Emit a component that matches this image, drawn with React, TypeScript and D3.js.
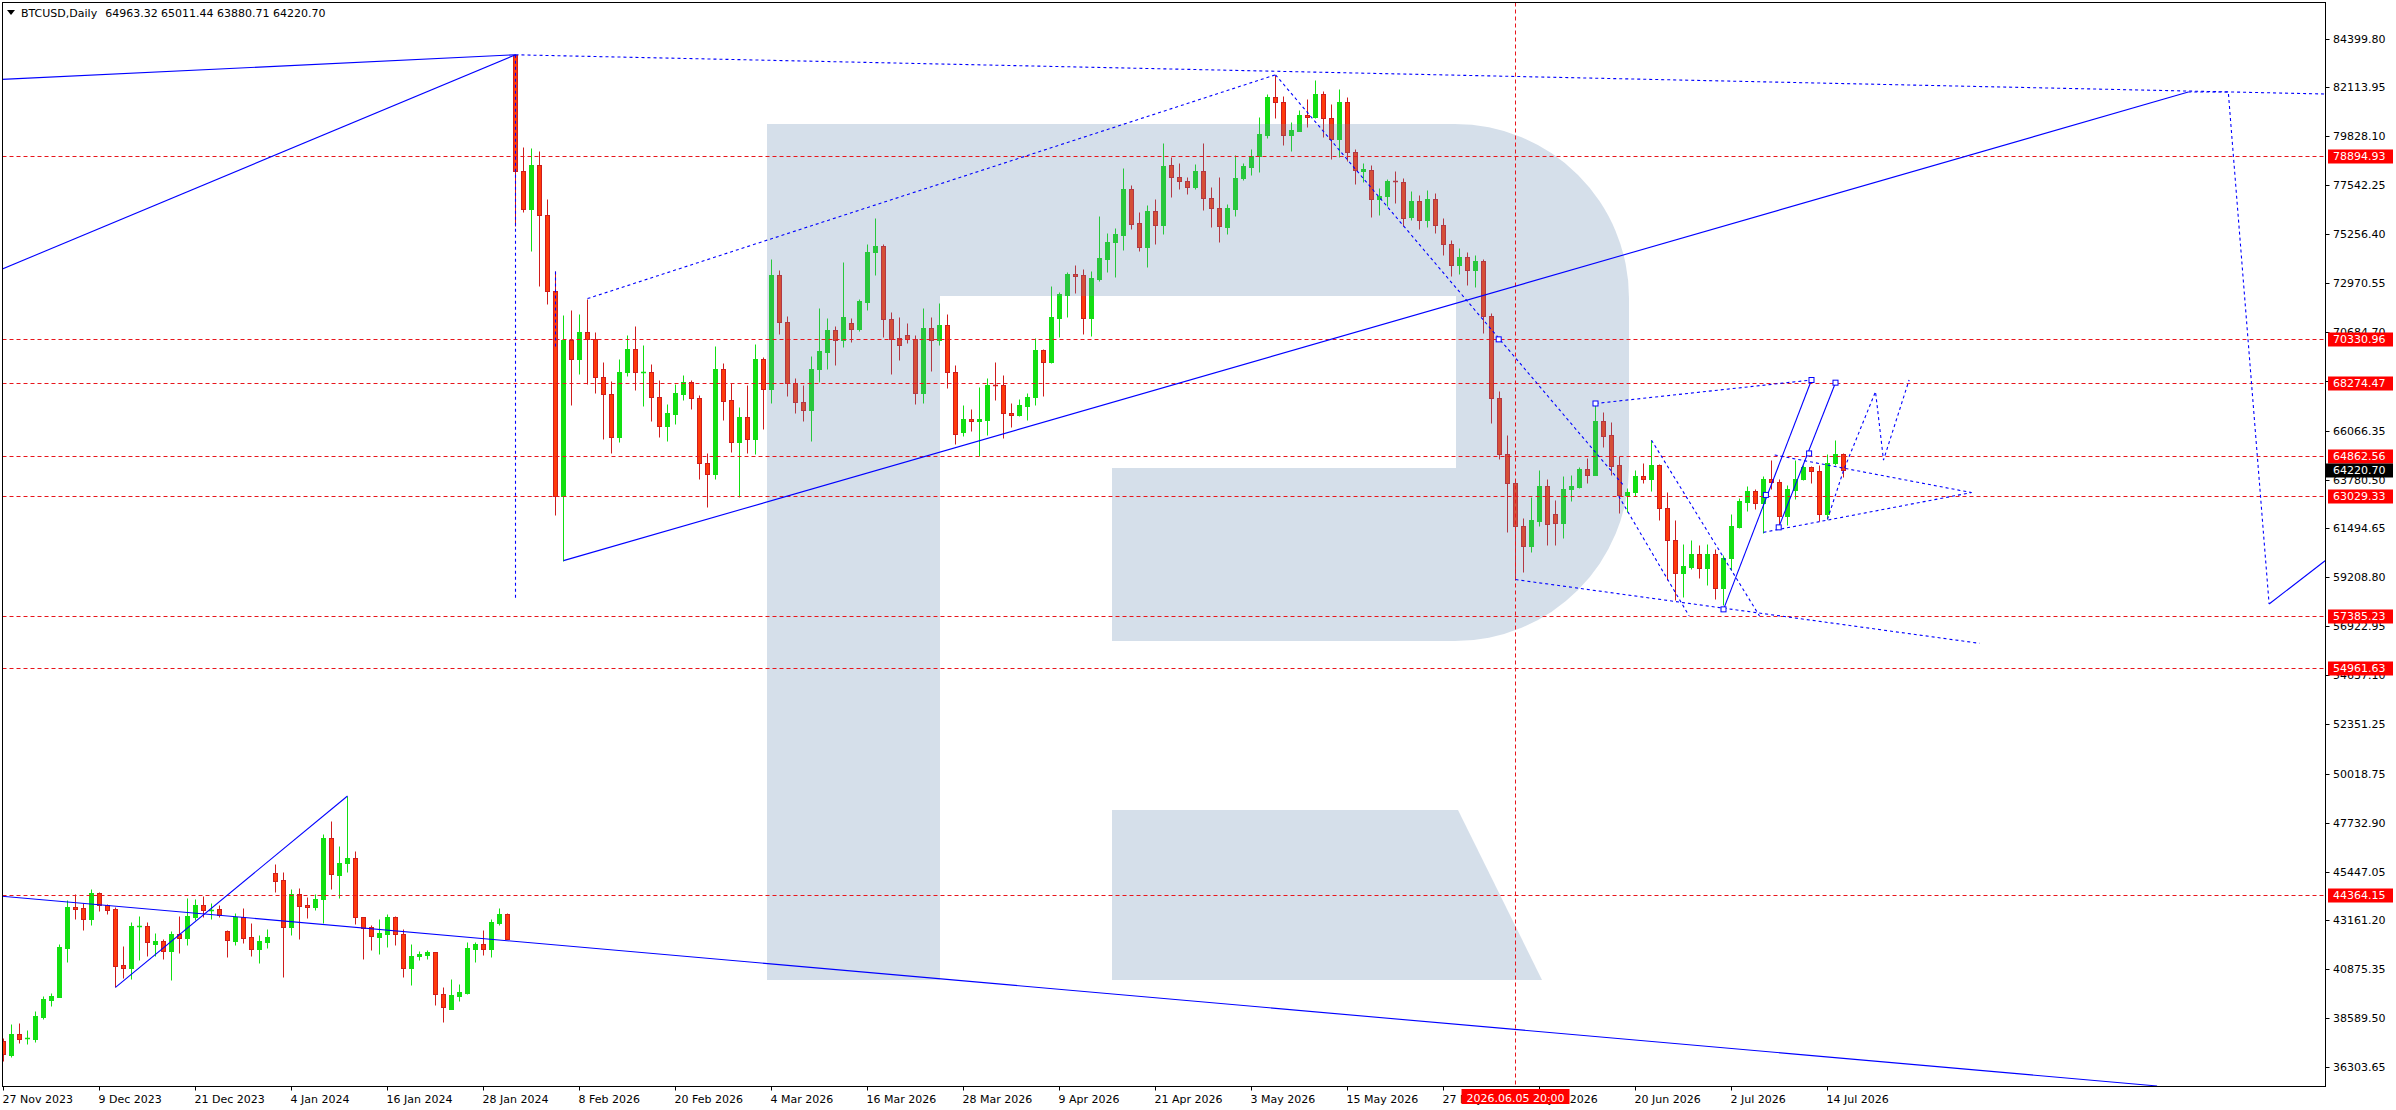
import React, { useMemo } from 'react';
import * as d3 from 'd3';

const W = 2396;
const H = 1110;
const FRAME = { left: 2.5, top: 2.5, right: 2325.5, bottom: 1086.5 };
const FONT = '"DejaVu Sans", Tahoma, sans-serif';

const SYMBOL = 'BTCUSD,Daily';
const HEADER_OHLC = '64963.32 65011.44 63880.71 64220.70';

// daily OHLC, bar 0 = 27 Nov 2023 (the feed jumps to 2026 after bar 63)
const CANDLES: [number, number, number, number][] = [
  [37521, 37646, 36601, 36898], [36866, 38316, 36757, 37849], [37849, 38348, 37443, 37630], [37630, 38036, 37365, 37661],
  [37630, 38924, 37490, 38690], [38659, 39626, 38534, 39485], [39454, 39782, 39174, 39626], [39595, 42058, 39595, 41917],
  [41886, 44116, 41231, 43788], [43788, 44381, 43243, 43710], [43741, 43960, 42728, 43243], [43243, 44630, 42962, 44427],
  [44427, 44490, 43617, 43866], [43866, 43944, 43477, 43663], [43695, 43804, 40031, 41045], [41076, 41964, 40452, 40951],
  [40951, 43071, 40437, 42900], [42868, 43367, 41310, 42900], [42884, 43071, 41512, 42136], [42073, 42557, 41512, 42183],
  [42183, 42276, 41372, 41746], [41746, 42682, 40390, 42526], [42526, 43367, 41653, 42354], [42354, 44225, 42011, 43367],
  [43336, 44162, 43180, 43866], [43866, 44318, 43305, 43632], [43617, 43960, 43211, 43663], [43679, 43882, 43305, 43414],
  [42650, 42697, 41466, 42229], [42214, 43492, 41995, 43321], [43305, 43741, 42120, 42354], [42385, 43024, 41512, 41808],
  [41808, 42463, 41185, 42183], [42167, 42775, 41855, 42370], [45363, 45799, 44505, 45020], [45035, 45425, 40499, 42837],
  [42837, 44630, 42494, 44381], [44381, 44677, 42307, 43851], [43866, 44256, 43289, 43804], [43804, 44381, 43663, 44162],
  [44147, 47202, 43056, 47000], [47000, 47810, 44615, 45316], [45300, 46641, 44194, 45830], [45830, 48980, 45441, 46064],
  [46064, 46407, 42993, 43305], [43305, 43336, 41341, 42822], [42853, 42962, 41793, 42417], [42401, 43243, 41575, 42557],
  [42541, 43461, 41902, 43321], [43321, 43383, 42027, 42510], [42510, 42759, 40499, 40951], [40951, 42058, 40125, 41481],
  [41481, 41731, 41294, 41606], [41559, 41777, 41372, 41684], [41668, 41699, 39220, 39704], [39704, 40062, 38394, 39096],
  [39033, 40421, 39033, 39657], [39642, 40187, 39377, 39813], [39782, 42151, 39704, 41871], [41839, 42136, 41231, 42058],
  [42058, 42713, 41559, 41839], [41839, 43243, 41466, 43087], [43056, 43757, 42962, 43461], [43461, 43492, 42276, 42307],
  [83643, 83676, 75652, 78193], [78193, 79330, 76287, 76421], [76421, 79296, 74481, 78494], [78494, 79146, 72843, 76136],
  [76136, 76905, 72007, 72609], [72609, 73512, 62110, 63030], [63030, 71472, 59987, 70302], [70302, 71706, 67276, 69433],
  [69433, 71522, 68730, 70670], [70670, 72241, 68229, 70335], [70335, 70670, 67828, 68597], [68597, 69265, 65688, 67761],
  [67761, 68379, 65036, 65755], [65755, 69416, 65537, 68831], [68814, 70536, 68630, 69867], [69867, 70971, 67978, 68797],
  [68781, 70068, 67226, 68814], [68797, 69182, 66523, 67627], [67627, 68446, 65771, 66290], [66290, 67292, 65587, 66891],
  [66858, 68262, 66390, 67828], [67794, 68664, 67510, 68363], [68363, 68446, 67092, 67577], [67577, 67711, 63815, 64568],
  [64568, 65003, 62511, 64016], [64016, 70018, 63815, 68948], [68948, 69249, 66557, 67460], [67493, 68296, 65069, 65520],
  [65520, 67159, 62980, 66724], [66724, 68195, 65036, 65654], [65654, 70118, 64986, 69416], [69416, 69517, 66122, 67995],
  [67995, 74097, 67376, 73345], [73345, 73579, 70603, 71138], [71138, 71422, 67694, 68279], [68279, 68546, 66908, 67426],
  [67426, 68212, 66524, 67008], [67008, 69566, 65587, 68948], [68948, 71807, 68346, 69784], [69767, 71355, 68964, 70770],
  [70770, 70971, 69148, 70302], [70302, 73946, 69984, 71372], [71104, 71355, 70218, 70804], [70804, 72241, 70703, 72124],
  [72091, 74799, 71723, 74414], [74414, 76019, 73361, 74682], [74682, 74799, 70453, 71271], [71271, 71606, 68730, 70352],
  [70402, 71372, 69349, 70051], [70536, 71104, 70185, 70352], [70352, 70536, 67326, 67844], [67844, 71807, 67376, 70870],
  [70870, 71372, 68864, 70285], [70285, 72041, 70085, 71004], [71004, 71522, 68078, 68831], [68831, 69132, 65454, 65923],
  [66006, 67260, 65821, 66591], [66591, 67076, 66055, 66524], [66524, 68095, 64869, 66591], [66574, 68530, 65872, 68195],
  [68195, 69265, 67510, 68145], [68195, 68664, 65704, 66908], [66908, 67360, 66240, 66808], [66791, 67543, 66741, 67260],
  [67226, 67828, 66574, 67643], [67627, 70385, 67260, 69834], [69834, 69867, 67677, 69282], [69282, 72826, 69249, 71372],
  [71355, 72559, 70453, 72458], [72425, 73478, 71389, 73395], [73395, 73813, 72509, 73311], [73345, 73629, 70603, 71355],
  [71355, 73529, 70503, 73211], [73177, 76103, 73060, 74147], [74114, 75317, 73478, 74866], [74866, 75551, 73261, 75267],
  [75234, 78360, 74532, 77374], [77374, 77558, 75484, 75752], [75769, 76287, 74448, 74649], [74649, 76621, 73729, 76320],
  [76320, 76889, 74816, 75702], [75702, 79530, 75284, 78443], [78477, 78861, 76972, 77925], [77925, 78594, 77357, 77724],
  [77741, 77925, 77156, 77474], [77474, 78544, 77357, 78193], [78193, 79530, 76404, 76939], [76939, 77457, 75602, 76471],
  [76471, 77925, 74899, 75618], [75602, 76672, 75284, 76488], [76454, 78962, 76120, 77892], [77858, 78577, 77808, 78443],
  [78410, 79246, 78042, 78912], [78895, 80734, 78176, 79931], [79915, 81821, 79731, 81670], [81670, 82707, 80667, 81419],
  [81419, 81720, 79447, 79881], [79881, 80500, 79162, 80132], [80099, 81068, 80065, 80818], [80818, 81587, 80249, 80734],
  [80734, 82473, 80667, 81821], [81821, 81954, 79798, 80684], [80684, 81353, 78761, 79697], [79697, 82055, 78878, 81419],
  [81419, 81670, 78661, 79112], [79112, 79246, 77608, 78243], [78226, 78577, 77708, 78293], [78243, 78494, 76053, 76889],
  [76889, 77424, 76136, 77040], [77023, 77842, 76555, 77724], [77724, 78209, 76705, 77674], [77674, 77892, 75652, 76019],
  [76050, 77250, 75940, 76800], [76800, 77100, 75500, 75900], [75900, 77300, 75600, 76900], [76900, 77200, 75300, 75700],
  [75700, 76000, 74300, 74800], [74800, 75000, 73300, 73800], [73800, 74600, 73400, 74200], [74200, 74400, 72900, 73600],
  [73600, 74300, 72800, 74000], [74000, 74100, 70643, 71422], [71422, 71547, 66400, 67570], [67570, 67913, 64762, 64996],
  [64996, 65854, 61331, 63639], [63639, 63749, 59101, 61611], [61596, 62002, 59460, 60676], [60676, 62969, 60395, 61877],
  [61846, 64217, 61612, 63468], [63468, 63827, 60707, 61690], [62158, 62844, 60707, 61752], [61752, 63936, 61050, 63358],
  [63358, 64014, 62782, 63468], [63437, 64373, 63405, 64263], [64263, 64778, 63624, 64014], [63983, 67336, 63983, 66509],
  [66509, 66946, 65308, 65823], [65853, 66447, 63983, 64419], [64450, 64872, 62220, 63047], [63047, 63405, 62251, 63203],
  [63187, 64217, 63000, 63936], [63936, 64575, 63624, 63811], [63795, 65620, 63250, 64450], [64450, 64497, 61877, 62470],
  [62470, 63203, 59101, 60941], [60941, 61877, 58134, 59413], [59413, 60754, 58290, 59725], [59694, 60941, 59616, 60286],
  [60286, 60707, 59179, 59662], [59662, 60785, 58836, 60286], [60286, 60551, 58180, 58726], [58726, 60240, 57900, 60130],
  [60115, 62189, 59538, 61596], [61565, 62922, 61518, 62766], [62735, 63468, 62314, 63234], [63234, 63358, 62423, 62703],
  [62688, 63936, 61300, 63827], [63827, 64684, 63358, 63671], [63671, 63827, 61596, 62080], [62080, 63515, 61643, 63328],
  [63312, 64716, 62860, 63827], [63795, 64450, 63749, 64373], [64373, 64419, 63624, 64185], [64185, 64450, 61830, 62189],
  [62189, 64965, 61924, 64575], [64560, 65620, 64450, 64965], [64963.32, 65011.44, 63880.71, 64220.7],
];

const PRICE_TICKS = [
  84399.8, 82113.95, 79828.1, 77542.25, 75256.4, 72970.55, 70684.7, 68398.85, 66066.35, 63780.5, 61494.65,
  59208.8, 56922.95, 54637.1, 52351.25, 50018.75, 47732.9, 45447.05, 43161.2, 40875.35, 38589.5, 36303.65,
];
const LEVELS = [78894.93, 70330.96, 68274.47, 64862.56, 63029.33, 57385.23, 54961.63, 44364.15];
const LAST_PRICE = 64220.7;

const DATE_BARS = [0, 12, 24, 36, 48, 60, 72, 84, 96, 108, 120, 132, 144, 156, 168, 180, 192, 204, 216, 228];
const DATE_LABELS = [
  '27 Nov 2023', '9 Dec 2023', '21 Dec 2023', '4 Jan 2024', '16 Jan 2024', '28 Jan 2024', '8 Feb 2026',
  '20 Feb 2026', '4 Mar 2026', '16 Mar 2026', '28 Mar 2026', '9 Apr 2026', '21 Apr 2026', '3 May 2026',
  '15 May 2026', '27 May 2026', '8 Jun 2026', '20 Jun 2026', '2 Jul 2026', '14 Jul 2026',
];
const CURSOR_BAR = 189;
const CURSOR_LABEL = '2026.06.05 20:00';

// drawn objects, points as [bar, price]
const SOLID_LINES: [number, number][][] = [
  [[-0.44, 82487], [64, 83643]],
  [[-0.44, 73580], [64, 83643]],
  [[70, 59987], [273.1, 81900]],
  [[-0.44, 44302], [269.2, 35417]],
  [[14, 40031], [43, 48980]],
  [[215, 57708], [226, 68434]],
  [[221.9, 61543], [229, 68309]],
  [[283.2, 57960], [290.2, 59980]],
];
const DOTTED_LINES: [number, number][][] = [
  [[64, 83643], [290.2, 81809]],
  [[64, 83643], [64, 58150]],
  [[69, 73512], [69, 69970]],
  [[73, 72241], [159, 82707]],
  [[159, 82707], [202.4, 63550]],
  [[201.9, 63000], [210.7, 57400]],
  [[206, 65620], [219.5, 57400]],
  [[189, 59101], [247, 56120]],
  [[199, 67336], [226, 68434]],
  [[221.4, 64926], [246, 63170]],
  [[220, 61310], [246, 63170]],
  [[228, 61924], [230, 64200], [234, 67890], [235, 64690], [238.2, 68434]],
  [[273.1, 81900], [278.1, 81900], [283.2, 57960]],
];
const MARKERS: [number, number][] = [
  [215, 57708], [226, 68434], [221.9, 61543], [229, 68309], [225.7, 65000], [220.3, 63060], [186.9, 70335], [199, 67336],
];

const BULL = '#12df12';
const BEAR_FILL = '#ff3a0a';
const BEAR_LINE = '#d01c1c';
const LEVEL_RED = '#e8161c';
const BLUE = '#0000ff';

export default function App() {
  const x = useMemo(() => d3.scaleLinear().domain([0, 290]).range([3.5, 3.5 + 8 * 290]), []);
  const y = useMemo(() => d3.scaleLinear().domain([35417, 86112]).range([1086, 2]), []);
  const line = d3.line<[number, number]>().x((d) => x(d[0])).y((d) => y(d[1]));
  const snap = (v: number) => Math.round(v) + 0.5;

  // R watermark (pixel shape of the broker logo)
  const logoBody =
    'M767,124 H1455 A174,174 0 0 1 1629,298 V467 A174,174 0 0 1 1455,641 H1112 V468 H1456 V296 H940 V980 H767 Z';
  const logoLeg = 'M1112,810 H1458 L1542,980 H1112 Z';

  return (
    <div style={{ position: 'absolute', left: 0, top: 0 }}>
      <svg width={W} height={H} style={{ display: 'block', background: '#fff' }} fontFamily={FONT}>
        <defs>
          <clipPath id="plot">
            <rect x={FRAME.left} y={FRAME.top} width={FRAME.right - FRAME.left} height={FRAME.bottom - FRAME.top} />
          </clipPath>
        </defs>

        <g clipPath="url(#plot)">
          {/* Candles */}
          {CANDLES.map(([o, h, l, c], i) => {
            const cx = x(i);
            const bull = c >= o;
            const yTop = snap(y(Math.max(o, c)));
            const yBot = snap(y(Math.min(o, c)));
            const wick = bull ? BULL : BEAR_LINE;
            return (
              <g key={i}>
                <line x1={cx} x2={cx} y1={snap(y(h))} y2={snap(y(l))} stroke={wick} strokeWidth={1} />
                {yBot - yTop < 1.5 ? (
                  <line x1={cx - 2.5} x2={cx + 2.5} y1={yTop} y2={yTop} stroke={wick} strokeWidth={1.5} />
                ) : (
                  <rect
                    x={cx - 2}
                    y={yTop}
                    width={4}
                    height={yBot - yTop}
                    fill={bull ? BULL : BEAR_FILL}
                    stroke={bull ? BULL : BEAR_LINE}
                    strokeWidth={1}
                  />
                )}
              </g>
            );
          })}

          {/* Watermark */}
          <path d={logoBody} fill="rgb(100,137,178)" fillOpacity={0.27} />
          <path d={logoLeg} fill="rgb(100,137,178)" fillOpacity={0.27} />

          {/* Levels */}
          {LEVELS.map((p) => (
            <line
              key={p}
              x1={FRAME.left}
              x2={FRAME.right}
              y1={snap(y(p))}
              y2={snap(y(p))}
              stroke={LEVEL_RED}
              strokeDasharray="4 3"
            />
          ))}
          <line
            x1={x(CURSOR_BAR)}
            x2={x(CURSOR_BAR)}
            y1={FRAME.top}
            y2={FRAME.bottom}
            stroke={LEVEL_RED}
            strokeDasharray="4 3"
          />

          {/* Drawn objects */}
          {SOLID_LINES.map((pts, k) => (
            <path key={`s${k}`} d={line(pts) ?? ''} fill="none" stroke={BLUE} strokeWidth={1.1} />
          ))}
          {DOTTED_LINES.map((pts, k) => (
            <path key={`d${k}`} d={line(pts) ?? ''} fill="none" stroke={BLUE} strokeWidth={1.1} strokeDasharray="3 3" />
          ))}
          {MARKERS.map(([b, p], k) => (
            <rect key={`m${k}`} x={x(b) - 2.5} y={y(p) - 2.5} width={5} height={5} fill="#fff" stroke={BLUE} />
          ))}
        </g>

        {/* Header */}
        <path d="M7,10 L15,10 L11,15 Z" fill="#000" />
        <text x={21} y={17} fontSize={11} fill="#000">
          {SYMBOL}
          <tspan dx={8}>{HEADER_OHLC}</tspan>
        </text>

        {/* Frame */}
        <rect
          x={FRAME.left}
          y={FRAME.top}
          width={FRAME.right - FRAME.left}
          height={FRAME.bottom - FRAME.top}
          fill="none"
          stroke="#000"
        />

        {/* Price axis */}
        {PRICE_TICKS.map((p) => (
          <g key={p} transform={`translate(0,${snap(y(p))})`}>
            <line x1={FRAME.right} x2={FRAME.right + 4} stroke="#000" />
            <text x={2333} dy="0.36em" fontSize={11} fill="#000">
              {p.toFixed(2)}
            </text>
          </g>
        ))}
        {LEVELS.map((p) => (
          <g key={`l${p}`} transform={`translate(0,${snap(y(p))})`}>
            <rect x={2328} y={-7} width={65} height={14} fill="#ff0000" />
            <text x={2333} dy="0.36em" fontSize={11} fill="#fff">
              {p.toFixed(2)}
            </text>
          </g>
        ))}
        <g transform={`translate(0,${snap(y(LAST_PRICE))})`}>
          <rect x={2326} y={-7} width={67} height={14} fill="#000" />
          <text x={2333} dy="0.36em" fontSize={11} fill="#fff">
            {LAST_PRICE.toFixed(2)}
          </text>
        </g>

        {/* Date axis */}
        {DATE_BARS.map((b, k) => (
          <g key={b} transform={`translate(${x(b)},0)`}>
            <line y1={FRAME.bottom} y2={FRAME.bottom + 4} stroke="#000" />
            <text x={-1} y={1103} fontSize={11} fill="#000">
              {DATE_LABELS[k]}
            </text>
          </g>
        ))}
        <g transform={`translate(${x(CURSOR_BAR)},0)`}>
          <rect x={-54} y={1089} width={108} height={15} fill="#ff0000" />
          <text y={1102} textAnchor="middle" fontSize={11} fill="#fff">
            {CURSOR_LABEL}
          </text>
        </g>
      </svg>
    </div>
  );
}
